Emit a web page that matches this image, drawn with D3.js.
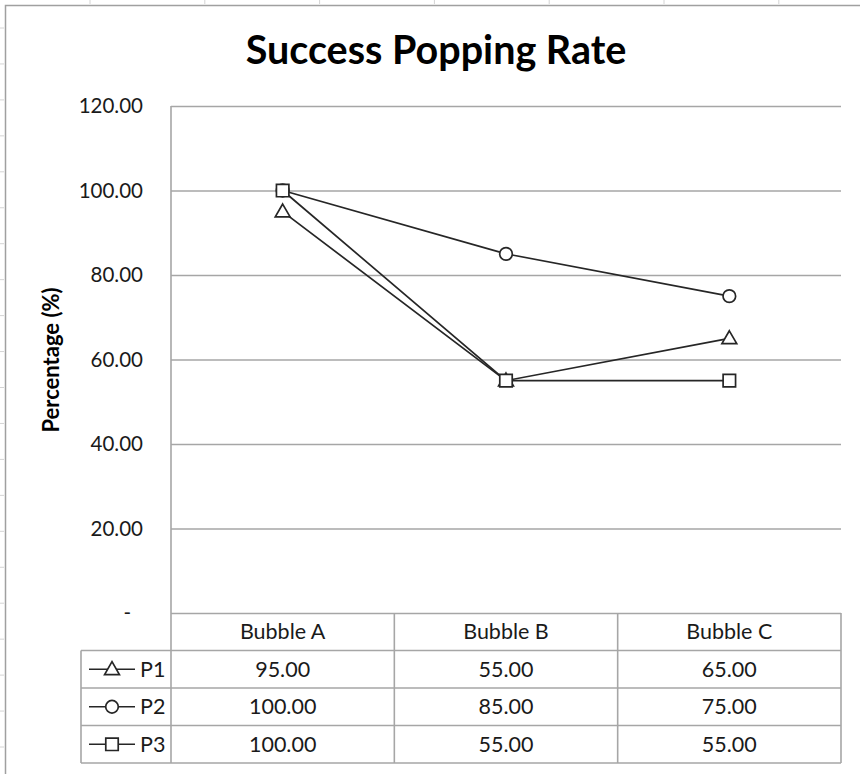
<!DOCTYPE html>
<html>
<head>
<meta charset="utf-8">
<script src="https://cdn.jsdelivr.net/npm/d3@7"></script>
<style>
  html, body { margin: 0; padding: 0; background: #fff; }
  svg { display: block; }
  text { font-family: Lato, "Open Sans", sans-serif; fill: #1a1a1a; }
</style>
</head>
<body>
<svg id="chart" width="860" height="774"></svg>
<script>
// ---- data ----
const categories = ["Bubble A", "Bubble B", "Bubble C"];
const seriesNames = ["P1", "P2", "P3"];
const seriesSymbols = ["triangle", "circle", "square"];
const p1Values = [95, 55, 65];
const p2Values = [100, 85, 75];
const p3Values = [100, 55, 55];
const yTickValues = [0, 20, 40, 60, 80, 100, 120];
const chartTitle = "Success Popping Rate";
const yAxisTitle = "Percentage (%)";

const series = seriesNames.map((name, i) => ({
  name,
  symbol: seriesSymbols[i],
  values: [p1Values, p2Values, p3Values][i]
}));

// ---- layout ----
const W = 860, H = 774;
const plot = { left: 171, right: 841, top: 106, bottom: 613 };
const rowH = 37.5;
const legendLeft = 81;
const gridColor = "#a6a6a6";
const lineColor = "#262626";
const bodyFont = "21.5px";

const svg = d3.select("#chart");
svg.append("rect").attr("width", W).attr("height", H).attr("fill", "#fff");

// worksheet cell separators peeking outside the chart frame
const sheet = svg.append("g").attr("stroke", "#d4d4d4").attr("stroke-width", 1);
d3.range(90, W, 114.8).forEach(x =>
  sheet.append("line").attr("x1", x).attr("x2", x).attr("y1", 0).attr("y2", 4));
d3.range(28, H, 35.95).forEach(y =>
  sheet.append("line").attr("x1", 0).attr("x2", 4).attr("y1", y).attr("y2", y));

// chart frame (left and top edges)
svg.append("path")
  .attr("d", `M5.5,${H} V5.5 H${W}`)
  .attr("fill", "none").attr("stroke", "#a0a0a0").attr("stroke-width", 1.5);

// ---- scales ----
const x = d3.scaleBand().domain(categories).range([plot.left, plot.right]).padding(0);
const y = d3.scaleLinear().domain([0, 120]).range([plot.bottom, plot.top]);
const xc = c => x(c) + x.bandwidth() / 2;

// ---- title ----
svg.append("text")
  .attr("x", 436).attr("y", 64)
  .attr("text-anchor", "middle")
  .style("font-size", "39.5px").style("font-weight", "bold").style("fill", "#000")
  .text(chartTitle);

// ---- y axis with horizontal gridlines ----
const yAxis = d3.axisLeft(y)
  .tickValues(yTickValues)
  .tickSize(-(plot.right - plot.left))
  .tickPadding(28)
  .tickFormat(d => d === 0 ? "-" : d3.format(".2f")(d));

const gy = svg.append("g")
  .attr("transform", `translate(${plot.left},0)`)
  .call(yAxis);
gy.select(".domain").remove();
gy.selectAll(".tick line").attr("stroke", gridColor).attr("stroke-width", 1.6);
gy.selectAll(".tick text")
  .style("font-size", "20.5px")
  .attr("font-family", null)
  .style("fill", "#1a1a1a");
gy.selectAll(".tick").filter(d => d === 0).select("text").attr("dx", -12);

// vertical axis line running down through the data table
svg.append("line")
  .attr("x1", plot.left).attr("x2", plot.left)
  .attr("y1", plot.top).attr("y2", plot.bottom + rowH * 4)
  .attr("stroke", gridColor).attr("stroke-width", 1.6);

// y axis title
svg.append("text")
  .attr("transform", `translate(59,360) rotate(-90)`)
  .attr("text-anchor", "middle")
  .style("font-size", "22px").style("font-weight", "bold").style("fill", "#000")
  .text(yAxisTitle);

// ---- series lines and markers ----
const line = d3.line().x(d => xc(d.cat)).y(d => y(d.v));
const symbolTypes = { triangle: d3.symbolTriangle, circle: d3.symbolCircle, square: d3.symbolSquare };
const symbolSizes = { triangle: 95, circle: 125, square: 155 };

function drawMarker(g, symbol, cx, cy) {
  const sym = d3.symbol().type(symbolTypes[symbol]).size(symbolSizes[symbol]);
  g.append("path")
    .attr("d", sym())
    .attr("transform", `translate(${cx},${cy + (symbol === "triangle" ? 1 : 0)})`)
    .attr("fill", "#fff").attr("stroke", lineColor).attr("stroke-width", 1.7);
}

series.forEach(s => {
  const pts = s.values.map((v, i) => ({ cat: categories[i], v }));
  const g = svg.append("g");
  g.append("path")
    .attr("d", line(pts))
    .attr("fill", "none").attr("stroke", lineColor).attr("stroke-width", 1.7);
  pts.forEach(p => drawMarker(g, s.symbol, xc(p.cat), y(p.v)));
});

// ---- data table ----
const table = svg.append("g");
const tableTop = plot.bottom;
const tableBottom = tableTop + rowH * 4;

function hLine(x1, x2, yy) {
  table.append("line").attr("x1", x1).attr("x2", x2).attr("y1", yy).attr("y2", yy)
    .attr("stroke", gridColor).attr("stroke-width", 1.6);
}
function vLine(xx, y1, y2) {
  table.append("line").attr("x1", xx).attr("x2", xx).attr("y1", y1).attr("y2", y2)
    .attr("stroke", gridColor).attr("stroke-width", 1.6);
}

series.forEach((s, i) => hLine(legendLeft, plot.right, tableTop + rowH * (i + 1)));
hLine(legendLeft, plot.right, tableBottom);
vLine(legendLeft, tableTop + rowH, tableBottom);
categories.forEach(c => vLine(x(c) + x.bandwidth(), tableTop, tableBottom));

// header row
categories.forEach(c => {
  table.append("text")
    .attr("x", xc(c)).attr("y", tableTop + rowH / 2)
    .attr("dy", "0.36em").attr("text-anchor", "middle")
    .style("font-size", bodyFont)
    .text(c);
});

// series rows
series.forEach((s, i) => {
  const rowMid = tableTop + rowH * (i + 1) + rowH / 2;
  // legend key
  const key = table.append("g");
  key.append("line")
    .attr("x1", legendLeft + 8).attr("x2", legendLeft + 54)
    .attr("y1", rowMid).attr("y2", rowMid)
    .attr("stroke", lineColor).attr("stroke-width", 1.6);
  drawMarker(key, s.symbol, legendLeft + 31, rowMid);
  key.append("text")
    .attr("x", legendLeft + 59).attr("y", rowMid)
    .attr("dy", "0.36em")
    .style("font-size", bodyFont)
    .text(s.name);
  // values
  s.values.forEach((v, j) => {
    table.append("text")
      .attr("x", xc(categories[j])).attr("y", rowMid)
      .attr("dy", "0.36em").attr("text-anchor", "middle")
      .style("font-size", bodyFont)
      .text(d3.format(".2f")(v));
  });
});
</script>
</body>
</html>
